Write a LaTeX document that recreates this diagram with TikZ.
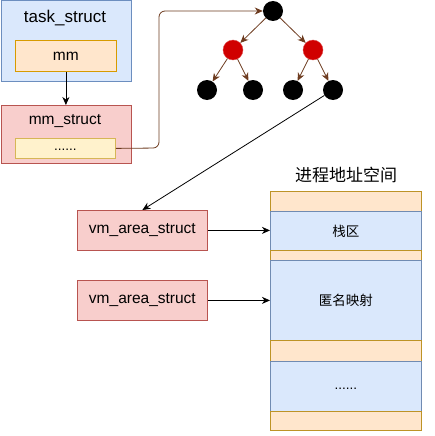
\documentclass[tikz,border=0pt]{standalone}
\usepackage{fontspec}
\setmainfont{Liberation Sans}
\newfontfamily\cjk{Noto Sans CJK SC}
\usetikzlibrary{arrows.meta}
\definecolor{bluefill}{HTML}{DAE8FC}
\definecolor{bluedraw}{HTML}{6C8EBF}
\definecolor{redfill}{HTML}{F8CECC}
\definecolor{reddraw}{HTML}{B85450}
\definecolor{orfill}{HTML}{FFE6CC}
\definecolor{ordraw}{HTML}{D79B00}
\definecolor{yelfill}{HTML}{FFF2CC}
\definecolor{yeldraw}{HTML}{D6B656}
\definecolor{brownc}{HTML}{6D3B1F}
\definecolor{rbred}{HTML}{D00000}
\begin{document}
\begin{tikzpicture}[x=1pt,y=-1pt,
  box/.style={draw, line width=0.8pt, inner sep=0pt, anchor=north west},
  bluebox/.style={box, fill=bluefill, draw=bluedraw},
  redbox/.style={box, fill=redfill, draw=reddraw},
  orbox/.style={box, fill=orfill, draw=ordraw},
  yelbox/.style={box, fill=yelfill, draw=yeldraw},
  colblue/.style={box, fill=bluefill, draw=bluedraw!80!gray, minimum width=151pt},
  colorange/.style={box, fill=orfill, draw=ordraw!70!gray, minimum width=151pt},
  blk/.style={circle, fill=black, minimum size=20pt, inner sep=0pt},
  rbn/.style={circle, fill=rbred, draw=rbred!70, minimum size=20pt, inner sep=0pt},
  treearrow/.style={draw=brownc, line width=0.8pt, -{Stealth[length=8pt,width=7pt,inset=2.5pt]}},
  blkarrow/.style={draw=black, line width=0.8pt, -{Stealth[length=8pt,width=7pt,inset=2.5pt]}},
  big/.style={font=\fontsize{17}{20}\selectfont},
  mid/.style={font=\fontsize{15.5}{18}\selectfont},
  small/.style={font=\fontsize{13.5}{16}\selectfont},
]
\useasboundingbox (0,0) rectangle (435,436);

% task_struct
\node[bluebox, minimum width=130pt, minimum height=80pt] (task) at (0.5,0.5) {};
\node[big] (tasklbl) at (65,18) {task\_struct};
\node[orbox, minimum width=101pt, minimum height=31pt] (mm) at (15,40) {};
\node[mid] (mmlbl) at (mm.center) {mm};

% mm_struct
\node[redbox, minimum width=130pt, minimum height=58pt] (mms) at (0.5,105) {};
\node[mid] (mmslbl) at (65,121) {mm\_struct};
\node[yelbox, minimum width=100pt, minimum height=20pt] (dots) at (15,138) {};
\node[small] (dotslbl) at ([yshift=-1pt]dots.center) {......};

\draw[blkarrow] (mm.south) -- (mms.north);

% tree
\node[blk] (root) at (273,11) {};
\node[rbn] (r1) at (233,50) {};
\node[rbn] (r2) at (313,50) {};
\node[blk] (l1) at (207,90) {};
\node[blk] (l2) at (253,90) {};
\node[blk] (l3) at (293,90) {};
\node[blk] (l4) at (333,90) {};
\draw[treearrow] (root) -- (r1);
\draw[treearrow] (root) -- (r2);
\draw[treearrow] (r1) -- (l1);
\draw[treearrow] (r1) -- (l2);
\draw[treearrow] (r2) -- (l3);
\draw[treearrow] (r2) -- (l4);

\coordinate (bend) at (159,148);
\draw[treearrow, rounded corners=6pt] (dots.east) -- (bend) |- (root.west);

% vm_area_struct
\node[redbox, minimum width=130pt, minimum height=40pt] (vm1) at (77,210) {};
\node[mid] (vm1lbl) at (vm1.center) {vm\_area\_struct};
\node[redbox, minimum width=130pt, minimum height=40pt] (vm2) at (77,280) {};
\node[mid] (vm2lbl) at (vm2.center) {vm\_area\_struct};

\draw[blkarrow] (l4) -- (vm1.north);

% address space
\node[big] (title) at (346,175) {\cjk 进程地址空间};
\node[colorange, minimum height=20pt] (s1) at (270,191) {};
\node[colblue, minimum height=39pt] (s2) at (270,211) {};
\node[colorange, minimum height=10pt] (s3) at (270,250) {};
\node[colblue, minimum height=80pt] (s4) at (270,260) {};
\node[colorange, minimum height=21pt] (s5) at (270,340) {};
\node[colblue, minimum height=50pt] (s6) at (270,361) {};
\node[colorange, minimum height=19pt] (s7) at (270,411) {};
\node[small] (s2lbl) at (s2.center) {\cjk 栈区};
\node[small] (s4lbl) at (s4.center) {\cjk 匿名映射};
\node[small] (s6lbl) at ([yshift=-2pt]s6.center) {......};

\draw[blkarrow] (vm1.east) -- (vm1.east -| s2.west);
\draw[blkarrow] (vm2.east) -- (vm2.east -| s4.west);
\end{tikzpicture}
\end{document}
